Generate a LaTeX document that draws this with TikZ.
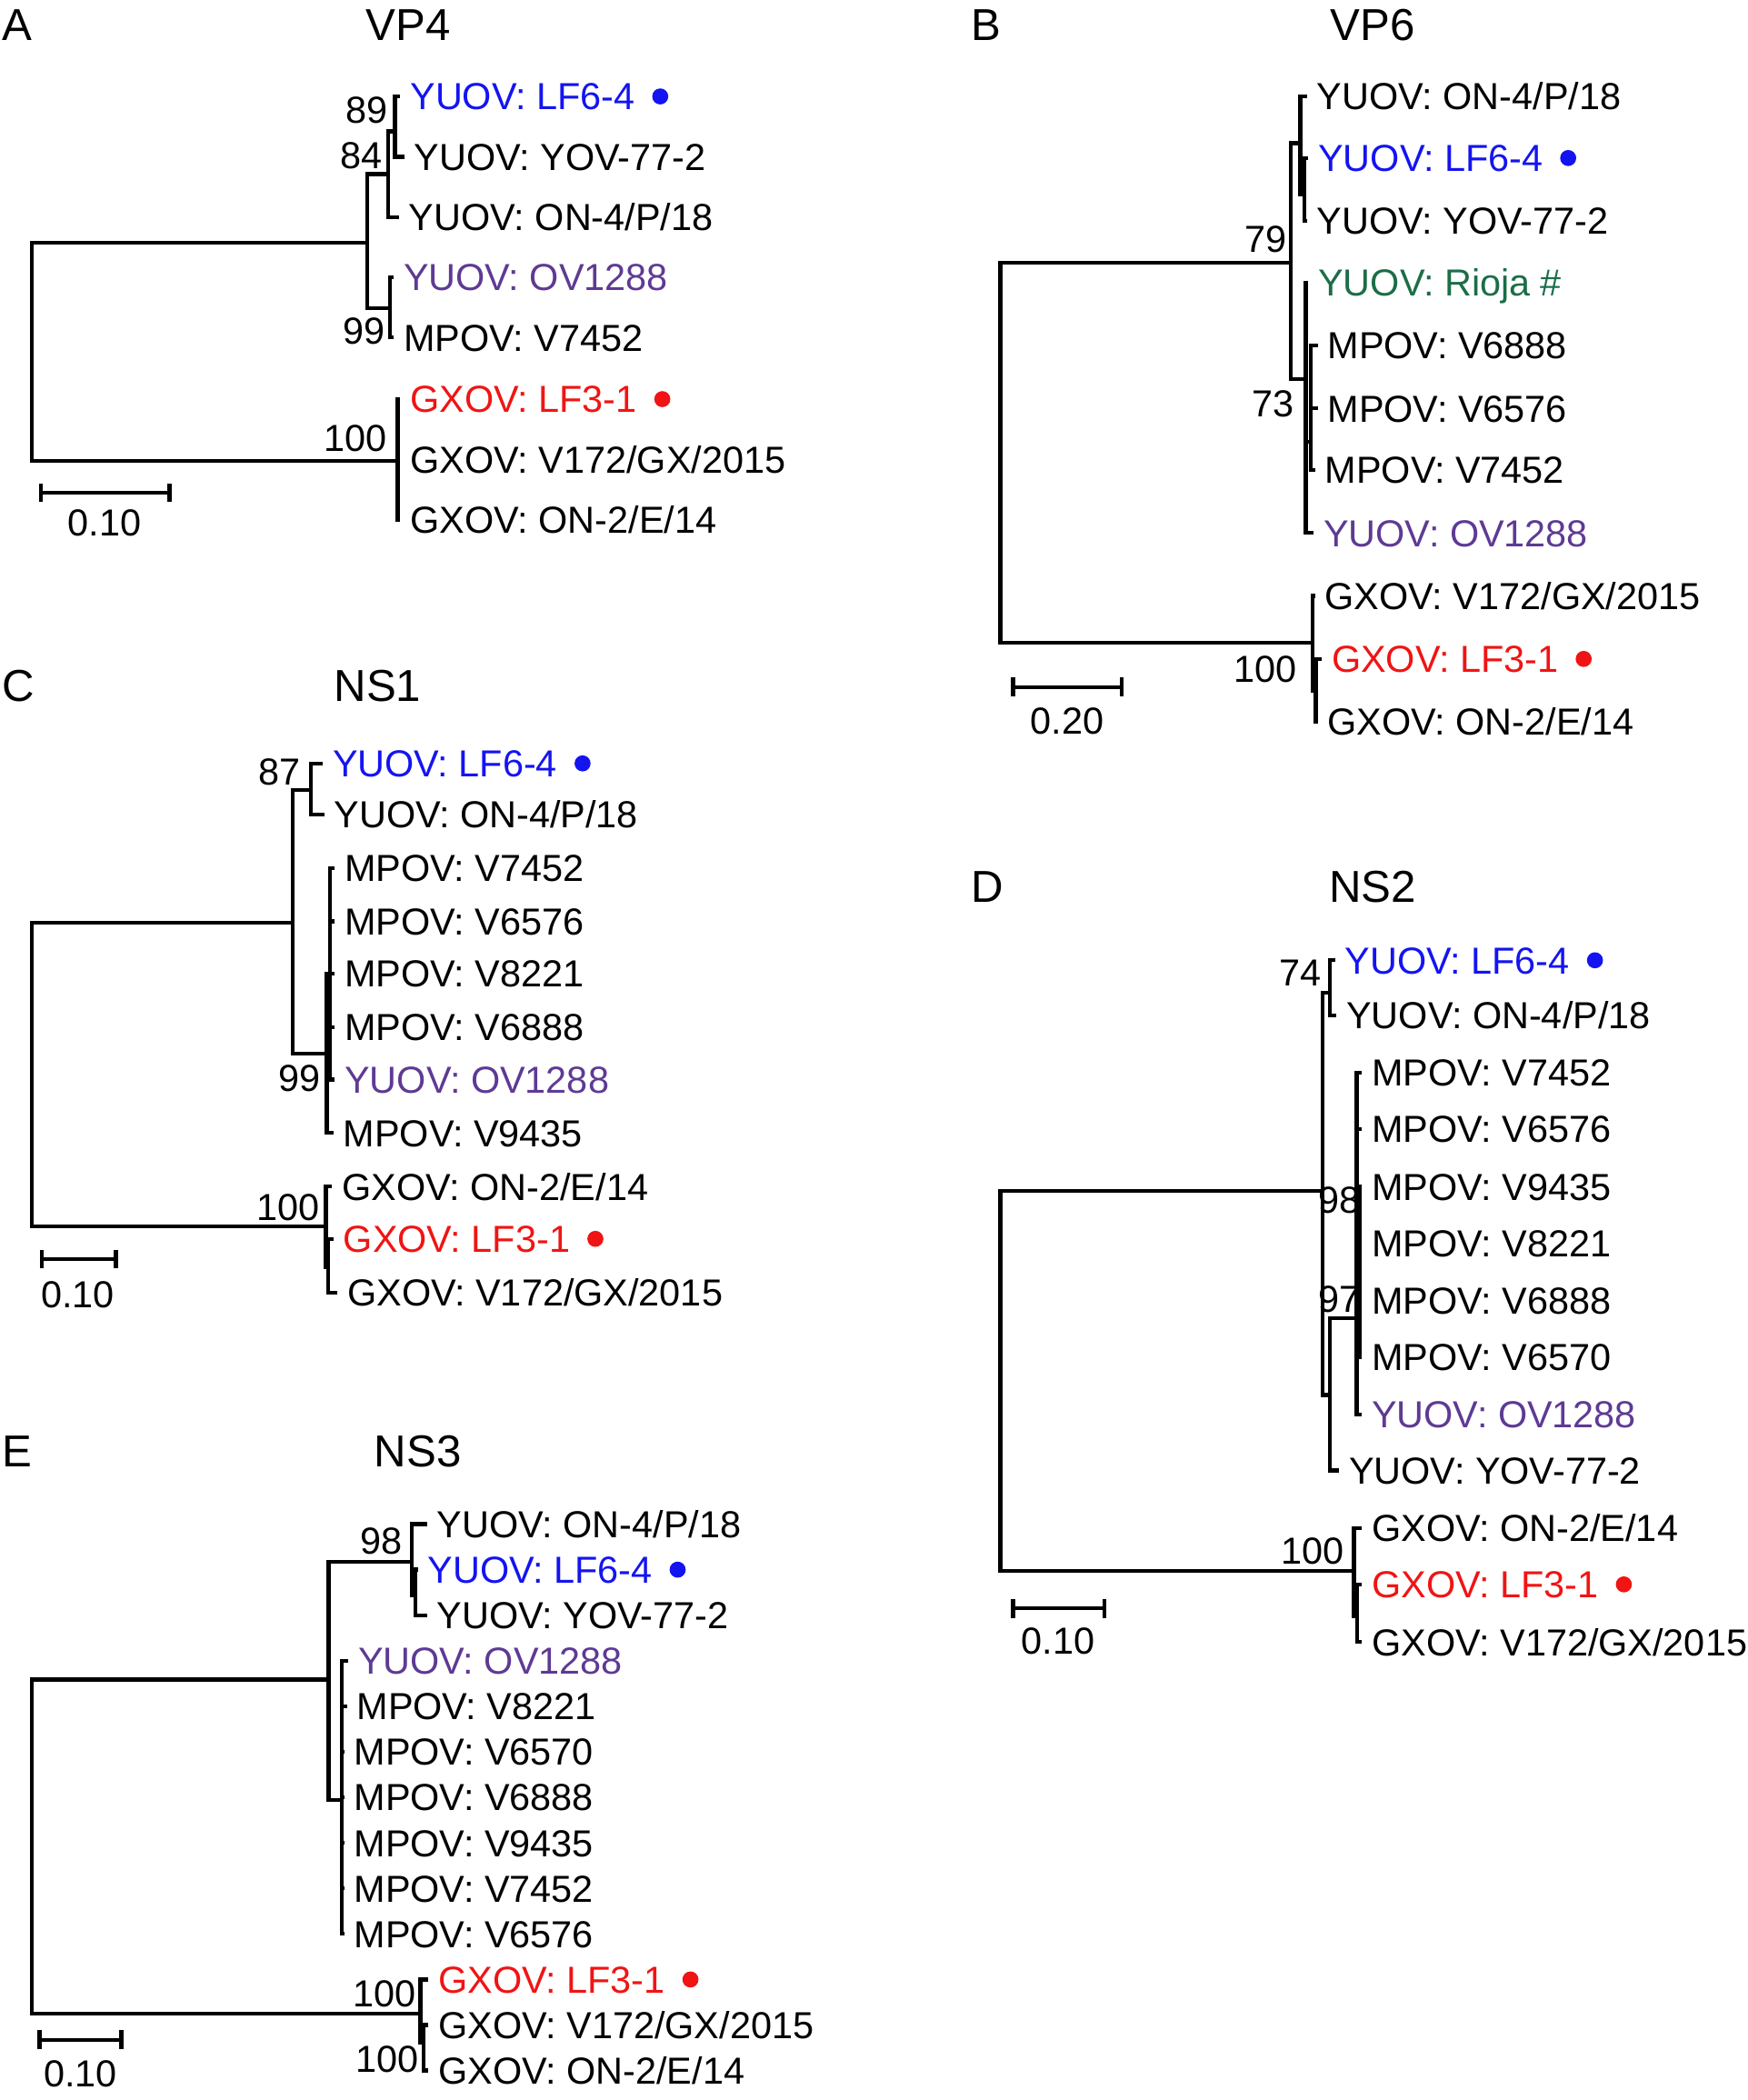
\documentclass[tikz,border=0pt]{standalone}
\usepackage{fontspec}
\setmainfont{Liberation Sans}
\usetikzlibrary{arrows.meta,positioning}
\definecolor{lfblue}{HTML}{1414F0}
\definecolor{ovpurple}{HTML}{5E3A94}
\definecolor{riojagreen}{HTML}{1B6E47}
\definecolor{lfred}{HTML}{F01414}

\begin{document}
\begin{tikzpicture}[x=0.02cm,y=-0.02cm,line width=1.65pt,
    leaf/.style={anchor=west,inner sep=0pt,font=\fontsize{16}{16}\selectfont,text height=11.5pt,text depth=0pt},
    boot/.style={anchor=east,inner sep=0pt,font=\fontsize{16}{16}\selectfont,text height=11.5pt,text depth=0pt},
    scl/.style={inner sep=0pt,font=\fontsize{16}{16}\selectfont,text height=11.5pt,text depth=0pt},
    panel/.style={inner sep=0pt,font=\fontsize{19}{19}\selectfont,text height=13.6pt,text depth=0pt},
    spot/.style={circle,inner sep=0pt,minimum size=0.24cm,right=0.2cm of #1},
    branch/.style={shorten >=0.12cm},
    scalebar/.style={{Bar[width=0.28cm]}-{Bar[width=0.28cm]}}]
\useasboundingbox (0,0) rectangle (1305,1568);

% A: VP4
\node[panel,anchor=west] (tA) at (0,18) {A};
\node[panel] (hA) at (305,18) {VP4};
\foreach \n/\x/\y/\c/\t in {a1/305/72/lfblue/{YUOV: LF6-4},a2/308/117/black/{YUOV: YOV-77-2},
    a3/304/162/black/{YUOV: ON-4/P/18},a4/300/207/ovpurple/{YUOV: OV1288},a5/300/252/black/{MPOV: V7452},
    a6/305/298/lfred/{GXOV: LF3-1},a7/305/343/black/{GXOV: V172/GX/2015},a8/305/388/black/{GXOV: ON-2/E/14}}
  \node[leaf,text=\c] (\n) at (\x,\y) {\t};
\node[spot=a1,fill=lfblue] (a1d) {};
\node[spot=a6,fill=lfred] (a6d) {};
\foreach \n/\x/\y in {rA/24/262,A1/274/181,A2/290/130,A3/291/230,A4/295/98,A5/297/344}
  \coordinate (\n) at (\x,\y);
\foreach \p/\c in {rA/A1,rA/A5,A1/A2,A1/A3,A2/A4}
  \draw (\p) |- (\c);
\foreach \p/\c in {A4/a1,A4/a2,A2/a3,A3/a4,A3/a5,A5/a6,A5/a7,A5/a8}
  \draw[branch] (\p) |- (\c.west);
\foreach \n/\x/\y/\t in {bA4/291/82/89,bA2/287/116/84,bA3/289/247/99,bA5/290/327/100}
  \node[boot] (\n) at (\x,\y) {\t};
\coordinate (sA1) at (29,368);
\coordinate (sA2) at (128,368);
\draw[scalebar] (sA1) -- (sA2);
\node[scl] (sA) at (78,390) {0.10};

% B: VP6
\node[panel,anchor=west] (tB) at (724,18) {B};
\node[panel] (hB) at (1025,18) {VP6};
\foreach \n/\x/\y/\c/\t in {b1/982/72/black/{YUOV: ON-4/P/18},b2/983/118/lfblue/{YUOV: LF6-4},
    b3/982/165/black/{YUOV: YOV-77-2},b4/983/211/riojagreen/{YUOV: Rioja \#},b5/990/258/black/{MPOV: V6888},
    b6/990/305/black/{MPOV: V6576},b7/988/351/black/{MPOV: V7452},b8/987/398/ovpurple/{YUOV: OV1288},
    b9/988/445/black/{GXOV: V172/GX/2015},b10/993/492/lfred/{GXOV: LF3-1},b11/990/539/black/{GXOV: ON-2/E/14}}
  \node[leaf,text=\c] (\n) at (\x,\y) {\t};
\node[spot=b2,fill=lfblue] (b2d) {};
\node[spot=b10,fill=lfred] (b10d) {};
\foreach \n/\x/\y in {rB/747/338,B1/964/196,B2/980/480,B3/971/107,B4/975/283,B5/974/145,B6/979/330,B7/982.5/516}
  \coordinate (\n) at (\x,\y);
\foreach \p/\c in {rB/B1,rB/B2,B1/B3,B1/B4,B3/B5,B4/B6,B2/B7}
  \draw (\p) |- (\c);
\foreach \p/\c in {B3/b1,B5/b2,B5/b3,B4/b4,B6/b5,B6/b6,B6/b7,B4/b8,B2/b9,B7/b10,B7/b11}
  \draw[branch] (\p) |- (\c.west);
\foreach \n/\x/\y/\t in {bB1/962/178/79,bB6/968/301/73,bB2/970/499/100}
  \node[boot] (\n) at (\x,\y) {\t};
\coordinate (sB1) at (755,513);
\coordinate (sB2) at (839,513);
\draw[scalebar] (sB1) -- (sB2);
\node[scl] (sB) at (797,538) {0.20};

% C: NS1
\node[panel,anchor=west] (tC) at (0,512) {C};
\node[panel] (hC) at (282,512) {NS1};
\foreach \n/\x/\y/\c/\t in {c1/247/570/lfblue/{YUOV: LF6-4},c2/248/608/black/{YUOV: ON-4/P/18},
    c3/256/648/black/{MPOV: V7452},c4/256/688/black/{MPOV: V6576},c5/256/727/black/{MPOV: V8221},
    c6/256/767/black/{MPOV: V6888},c7/256/806/ovpurple/{YUOV: OV1288},c8/255/846/black/{MPOV: V9435},
    c9/254/886/black/{GXOV: ON-2/E/14},c10/255/925/lfred/{GXOV: LF3-1},c11/258/965/black/{GXOV: V172/GX/2015}}
  \node[leaf,text=\c] (\n) at (\x,\y) {\t};
\node[spot=c1,fill=lfblue] (c1d) {};
\node[spot=c10,fill=lfred] (c10d) {};
\foreach \n/\x/\y in {rC/24/800,C1/218.4/689,C2/243.3/915.7,C3/232/590,C4/244/786.6,C5/246.6/727,C6/245/946}
  \coordinate (\n) at (\x,\y);
\foreach \p/\c in {rC/C1,rC/C2,C1/C3,C1/C4,C4/C5,C2/C6}
  \draw (\p) |- (\c);
\foreach \p/\c in {C3/c1,C3/c2,C5/c3,C5/c4,C5/c5,C5/c6,C5/c7,C4/c8,C2/c9,C6/c10,C6/c11}
  \draw[branch] (\p) |- (\c.west);
\foreach \n/\x/\y/\t in {bC3/226/576/87,bC4/241/805/99,bC2/240/901/100}
  \node[boot] (\n) at (\x,\y) {\t};
\coordinate (sC1) at (30,940);
\coordinate (sC2) at (88,940);
\draw[scalebar] (sC1) -- (sC2);
\node[scl] (sC) at (58,966) {0.10};

% D: NS2
\node[panel,anchor=west] (tD) at (724,662) {D};
\node[panel] (hD) at (1025,662) {NS2};
\foreach \n/\x/\y/\c/\t in {d1/1003/717/lfblue/{YUOV: LF6-4},d2/1004/758/black/{YUOV: ON-4/P/18},
    d3/1023/801/black/{MPOV: V7452},d4/1023/843/black/{MPOV: V6576},d5/1023/886/black/{MPOV: V9435},
    d6/1023/928/black/{MPOV: V8221},d7/1023/971/black/{MPOV: V6888},d8/1023/1013/black/{MPOV: V6570},
    d9/1023/1056/ovpurple/{YUOV: OV1288},d10/1006/1098/black/{YUOV: YOV-77-2},
    d11/1023/1141/black/{GXOV: ON-2/E/14},d12/1023/1183/lfred/{GXOV: LF3-1},d13/1023/1226/black/{GXOV: V172/GX/2015}}
  \node[leaf,text=\c] (\n) at (\x,\y) {\t};
\node[spot=d1,fill=lfblue] (d1d) {};
\node[spot=d12,fill=lfred] (d12d) {};
\foreach \n/\x/\y in {rD/747/1030,D1/987.5/889,D2/1011/1173,D3/993/741,D4/993/1041.5,D5/1013/984,D6/1015.5/950,D7/1013.5/1207}
  \coordinate (\n) at (\x,\y);
\foreach \p/\c in {rD/D1,rD/D2,D1/D3,D1/D4,D4/D5,D5/D6,D2/D7}
  \draw (\p) |- (\c);
\foreach \p/\c in {D3/d1,D3/d2,D5/d3,D5/d4,D6/d5,D6/d6,D6/d7,D6/d8,D5/d9,D4/d10,D2/d11,D7/d12,D7/d13}
  \draw[branch] (\p) |- (\c.west);
\foreach \n/\x/\y/\t in {bD3/988/726/74,bD5/1017/896/98,bD4/1017/970/97,bD2/1005/1158/100}
  \node[boot] (\n) at (\x,\y) {\t};
\coordinate (sD1) at (755,1201);
\coordinate (sD2) at (826,1201);
\draw[scalebar] (sD1) -- (sD2);
\node[scl] (sD) at (790,1225) {0.10};

% E: NS3
\node[panel,anchor=west] (tE) at (0,1083) {E};
\node[panel] (hE) at (312,1083) {NS3};
\foreach \n/\x/\y/\c/\t in {e1/325/1138/black/{YUOV: ON-4/P/18},e2/318/1172/lfblue/{YUOV: LF6-4},
    e3/325/1206/black/{YUOV: YOV-77-2},e4/266/1240/ovpurple/{YUOV: OV1288},e5/265/1274/black/{MPOV: V8221},
    e6/263/1308/black/{MPOV: V6570},e7/263/1342/black/{MPOV: V6888},e8/263/1376/black/{MPOV: V9435},
    e9/263/1410/black/{MPOV: V7452},e10/263/1444/black/{MPOV: V6576},e11/326/1478/lfred/{GXOV: LF3-1},
    e12/326/1512/black/{GXOV: V172/GX/2015},e13/326/1546/black/{GXOV: ON-2/E/14}}
  \node[leaf,text=\c] (\n) at (\x,\y) {\t};
\node[spot=e2,fill=lfblue] (e2d) {};
\node[spot=e11,fill=lfred] (e11d) {};
\foreach \n/\x/\y in {rE/24/1380,E1/245.3/1254,E2/314/1503.5,E3/307.3/1166,E4/255/1343.8,E5/310.4/1191,E6/316.5/1525}
  \coordinate (\n) at (\x,\y);
\foreach \p/\c in {rE/E1,rE/E2,E1/E3,E1/E4,E3/E5,E2/E6}
  \draw (\p) |- (\c);
\foreach \p/\c in {E3/e1,E5/e2,E5/e3,E4/e4,E4/e5,E4/e6,E4/e7,E4/e8,E4/e9,E4/e10,E2/e11,E6/e12,E6/e13}
  \draw[branch] (\p) |- (\c.west);
\foreach \n/\x/\y/\t in {bE3/302/1150/98,bE2/312/1488/100,bE6/314/1537/100}
  \node[boot] (\n) at (\x,\y) {\t};
\coordinate (sE1) at (28,1523);
\coordinate (sE2) at (92,1523);
\draw[scalebar] (sE1) -- (sE2);
\node[scl] (sE) at (60,1548) {0.10};
\end{tikzpicture}
\end{document}
